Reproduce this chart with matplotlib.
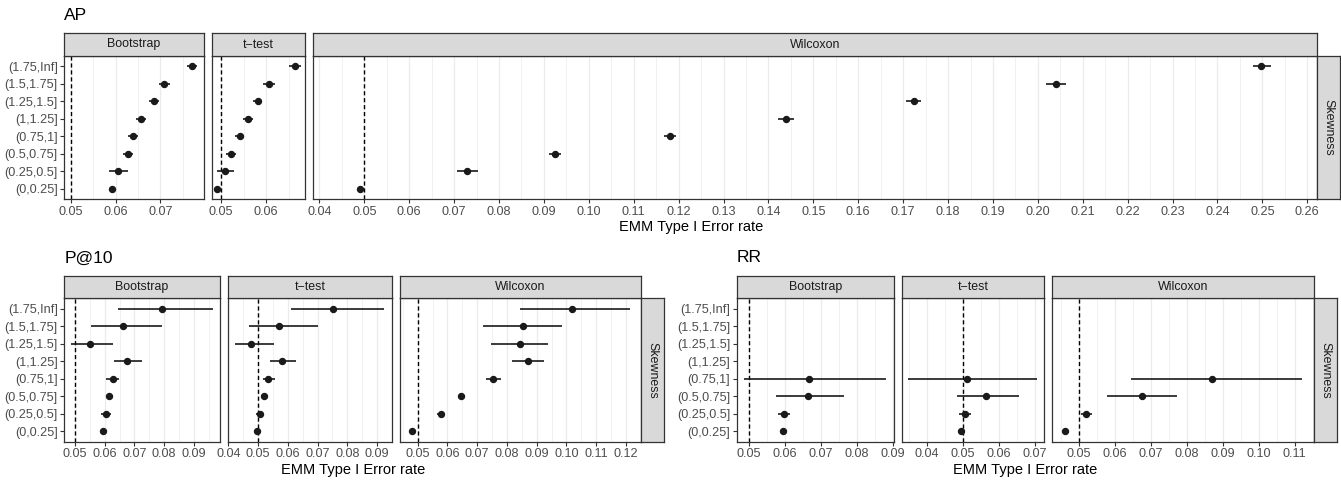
import matplotlib
matplotlib.use('Agg')
import matplotlib.pyplot as plt
from matplotlib.ticker import MultipleLocator, FormatStrFormatter
import numpy as np

plt.rcParams['font.family'] = ['Liberation Sans', 'DejaVu Sans']

nan = float('nan')

skew_levels = ['(0,0.25]', '(0.25,0.5]', '(0.5,0.75]', '(0.75,1]',
               '(1,1.25]', '(1.25,1.5]', '(1.5,1.75]', '(1.75,Inf]']
tests = ['Bootstrap', 't\u2212test', 'Wilcoxon']

# ---- AP ----
ap_boot_est = [0.0593, 0.0605, 0.0627, 0.0639, 0.0656, 0.0685, 0.0708, 0.0770]
ap_boot_lo = [0.0590, 0.0586, 0.0616, 0.0627, 0.0645, 0.0674, 0.0696, 0.0759]
ap_boot_hi = [0.0596, 0.0627, 0.0639, 0.0650, 0.0668, 0.0696, 0.0721, 0.0782]
ap_ttest_est = [0.0491, 0.0509, 0.0521, 0.0541, 0.0559, 0.0581, 0.0607, 0.0664]
ap_ttest_lo = [0.0489, 0.0490, 0.0511, 0.0531, 0.0548, 0.0571, 0.0593, 0.0651]
ap_ttest_hi = [0.0493, 0.0529, 0.0533, 0.0551, 0.0570, 0.0592, 0.0619, 0.0677]
ap_wilc_est = [0.0490, 0.0729, 0.0924, 0.1181, 0.1439, 0.1724, 0.2040, 0.2498]
ap_wilc_lo = [0.0488, 0.0707, 0.0912, 0.1168, 0.1422, 0.1707, 0.2018, 0.2478]
ap_wilc_hi = [0.0492, 0.0753, 0.0938, 0.1194, 0.1456, 0.1740, 0.2062, 0.2520]

# ---- P@10 ----
p10_boot_est = [0.0593, 0.0604, 0.0616, 0.0627, 0.0675, 0.0551, 0.0662, 0.0792]
p10_boot_lo = [0.0590, 0.0589, 0.0603, 0.0603, 0.0630, 0.0488, 0.0555, 0.0644]
p10_boot_hi = [0.0596, 0.0620, 0.0628, 0.0649, 0.0724, 0.0629, 0.0794, 0.0963]
p10_ttest_est = [0.0496, 0.0507, 0.0521, 0.0534, 0.0582, 0.0476, 0.0571, 0.0751]
p10_ttest_lo = [0.0494, 0.0494, 0.0510, 0.0516, 0.0540, 0.0424, 0.0469, 0.0611]
p10_ttest_hi = [0.0498, 0.0519, 0.0534, 0.0557, 0.0628, 0.0553, 0.0702, 0.0924]
p10_wilc_est = [0.0479, 0.0577, 0.0645, 0.0753, 0.0870, 0.0843, 0.0853, 0.1018]
p10_wilc_lo = [0.0477, 0.0565, 0.0635, 0.0728, 0.0817, 0.0745, 0.0720, 0.0845]
p10_wilc_hi = [0.0481, 0.0590, 0.0658, 0.0779, 0.0925, 0.0938, 0.0984, 0.1214]

# ---- RR ----
rr_boot_est = [0.0593, 0.0598, 0.0664, 0.0666, nan, nan, nan, nan]
rr_boot_lo = [0.0591, 0.0580, 0.0574, 0.0485, nan, nan, nan, nan]
rr_boot_hi = [0.0595, 0.0614, 0.0765, 0.0882, nan, nan, nan, nan]
rr_ttest_est = [0.0496, 0.0507, 0.0566, 0.0511, nan, nan, nan, nan]
rr_ttest_lo = [0.0494, 0.0490, 0.0485, 0.0349, nan, nan, nan, nan]
rr_ttest_hi = [0.0498, 0.0523, 0.0658, 0.0707, nan, nan, nan, nan]
rr_wilc_est = [0.0460, 0.0519, 0.0676, 0.0871, nan, nan, nan, nan]
rr_wilc_lo = [0.0458, 0.0507, 0.0578, 0.0645, nan, nan, nan, nan]
rr_wilc_hi = [0.0462, 0.0535, 0.0774, 0.1121, nan, nan, nan, nan]

nominal = 0.05

W, H = 1341, 480
fig = plt.figure(figsize=(W / 100, H / 100), dpi=100)


def px_axes(x0, y0, x1, y1):
    return fig.add_axes([x0 / W, 1 - y1 / H, (x1 - x0) / W, (y1 - y0) / H])


BORDER = '#333333'
STRIP = '#D9D9D9'
GRID = '#EBEBEB'


def strip_axes(x0, y0, x1, y1, label, rot=0):
    a = px_axes(x0, y0, x1, y1)
    a.set_facecolor(STRIP)
    a.set_xticks([])
    a.set_yticks([])
    for s in a.spines.values():
        s.set_color(BORDER)
        s.set_linewidth(0.9)
    a.text(0.5, 0.5, label, transform=a.transAxes, ha='center', va='center',
           fontsize=8.9, color='#1A1A1A', rotation=rot)
    return a


def block(title, series, left, right, strip_top, panel_top, panel_bottom,
          xlabel_y, gap=8.4, side_w=22.5):
    # x ranges per facet (ggplot-like 5% expansion, including reference line)
    ranges = []
    for est, lo, hi in series:
        vals = np.concatenate([np.array(est, float), np.array(lo, float),
                               np.array(hi, float), [nominal]])
        mn, mx = np.nanmin(vals), np.nanmax(vals)
        pad = 0.05 * (mx - mn)
        ranges.append((mn - pad, mx + pad))
    spans = [r[1] - r[0] for r in ranges]
    avail = right - left - gap * (len(series) - 1)
    scale = avail / sum(spans)
    x = left
    pos = np.arange(1, len(skew_levels) + 1)
    for i, ((est, lo, hi), (x0, x1)) in enumerate(zip(series, ranges)):
        w = spans[i] * scale
        ax = px_axes(x, panel_top, x + w, panel_bottom)
        ax.set_xlim(x0, x1)
        ax.set_ylim(0.4, len(skew_levels) + 0.6)
        ax.xaxis.set_major_locator(MultipleLocator(0.01))
        ax.xaxis.set_minor_locator(MultipleLocator(0.005))
        ax.xaxis.set_major_formatter(FormatStrFormatter('%.2f'))
        ax.grid(axis='x', which='major', color=GRID, lw=0.9)
        ax.grid(axis='x', which='minor', color=GRID, lw=0.5)
        ax.set_axisbelow(True)
        ax.tick_params(axis='x', which='minor', length=0)
        ax.tick_params(axis='both', which='major', length=2.7, width=0.8,
                       color=BORDER, labelsize=9.1, labelcolor='#4D4D4D', pad=2)
        ax.set_yticks(pos)
        if i == 0:
            ax.set_yticklabels(skew_levels)
        else:
            ax.set_yticklabels([])
            ax.tick_params(axis='y', length=0)
        for s in ax.spines.values():
            s.set_color(BORDER)
            s.set_linewidth(0.9)
        ax.axvline(nominal, color='black', lw=1.0, ls=(0, (3.0, 2.0)), zorder=2)
        ax.hlines(pos, lo, hi, color='#1A1A1A', lw=1.2, zorder=3)
        ax.plot(est, pos, 'o', ms=4.3, color='#1A1A1A', zorder=4)
        strip_axes(x, strip_top, x + w, panel_top, tests[i])
        x += w + gap
    strip_axes(right, panel_top, right + side_w, panel_bottom, 'Skewness', rot=-90)
    fig.text(left / W, 1 - (strip_top - 18) / H, title, fontsize=12.5,
             ha='left', va='center', color='black')
    fig.text((left + right) / 2 / W, 1 - xlabel_y / H, 'EMM Type I Error rate',
             fontsize=10.5, ha='center', va='center', color='black')


block('AP',
      [(ap_boot_est, ap_boot_lo, ap_boot_hi),
       (ap_ttest_est, ap_ttest_lo, ap_ttest_hi),
       (ap_wilc_est, ap_wilc_lo, ap_wilc_hi)],
      left=64.3, right=1317, strip_top=33.3, panel_top=55.7, panel_bottom=199.3,
      xlabel_y=227)

block('P@10',
      [(p10_boot_est, p10_boot_lo, p10_boot_hi),
       (p10_ttest_est, p10_ttest_lo, p10_ttest_hi),
       (p10_wilc_est, p10_wilc_lo, p10_wilc_hi)],
      left=64.3, right=641, strip_top=276, panel_top=298.3, panel_bottom=441.7,
      xlabel_y=470)

block('RR',
      [(rr_boot_est, rr_boot_lo, rr_boot_hi),
       (rr_ttest_est, rr_ttest_lo, rr_ttest_hi),
       (rr_wilc_est, rr_wilc_lo, rr_wilc_hi)],
      left=736.7, right=1314, strip_top=276, panel_top=298.3, panel_bottom=441.7,
      xlabel_y=470)

fig.savefig('out.png', dpi=100, facecolor='white')
